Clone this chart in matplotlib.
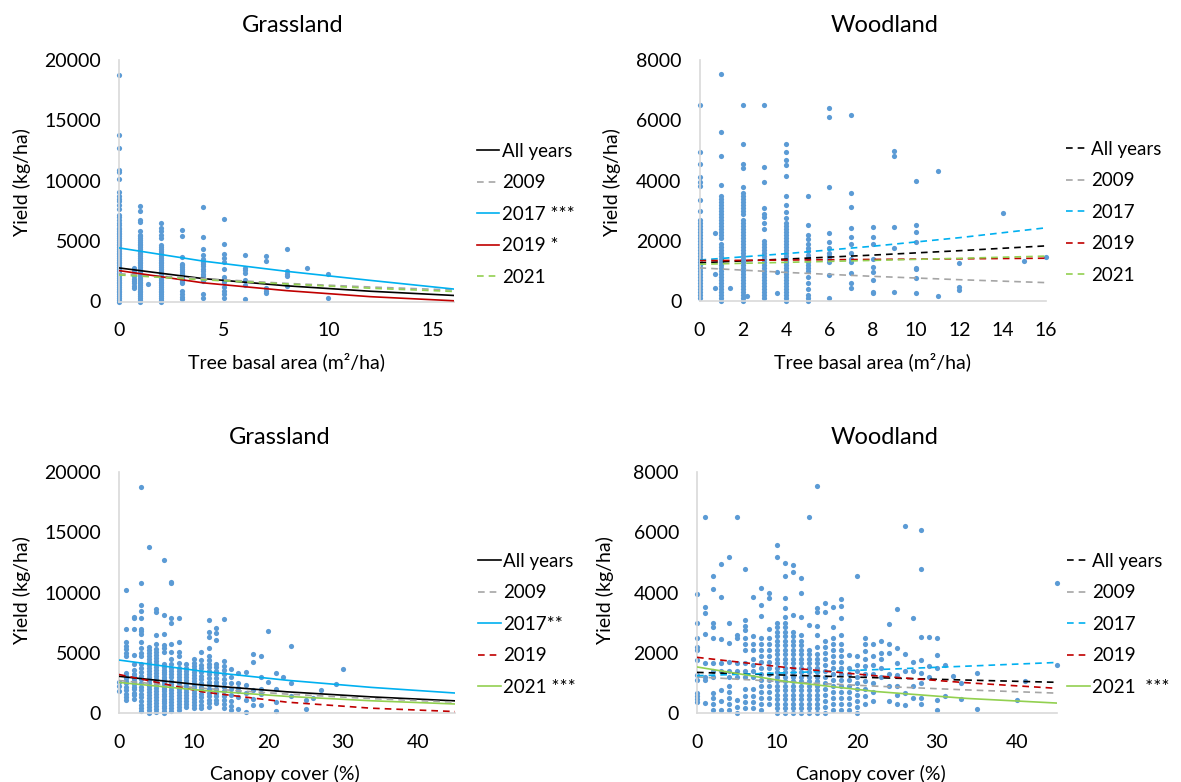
import matplotlib
matplotlib.use("Agg")
import matplotlib.pyplot as plt

plt.rcParams['font.family'] = ['Lato', 'DejaVu Sans']

W, H = 1181, 782
DOT = '#5B9BD5'
AXIS = '#D9D9D9'
C_ALL, C_09, C_17, C_19, C_21 = '#000000', '#A5A5A5', '#00B0F0', '#C00000', '#92D050'

# ---- top left: grassland, yield vs tree basal area ----
tl_x = [0, 0.7, 1, 1.4, 2, 3, 4, 5, 6, 7, 8, 9, 10]
tl_y = [
    [0, 150, 300, 450, 600, 750, 900, 1050, 1200, 1350, 1500, 1650, 1800, 1950, 2100,
     2250, 2400, 2550, 2700, 2850, 3000, 3150, 3300, 3450, 3600, 3750, 3900, 4050, 4200,
     4350, 4500, 4650, 4800, 4950, 5100, 5250, 5400, 5550, 5700, 5850, 6000, 6100,
     6300, 6500, 6750, 7000, 7160, 7700, 8000, 8300, 8500, 8700, 9040, 10140, 10700,
     10880, 12680, 13830, 18790],
    [1100, 1300, 1500, 1700, 1900, 2100, 2300, 2500, 2800],
    [0, 150, 300, 450, 600, 750, 900, 1050, 1200, 1350, 1500, 1650, 1800, 1950, 2100,
     2250, 2400, 2550, 2700, 2850, 3000, 3150, 3300, 3450, 3600, 3750, 3900, 4050, 4200,
     4350, 4500, 4650, 4800, 4950, 5100, 5250, 5400, 5500, 5850, 6560, 6720, 7530, 7940],
    [1440],
    [0, 150, 300, 450, 600, 750, 900, 1050, 1200, 1350, 1500, 1650, 1800, 1950, 2100,
     2250, 2400, 2550, 2700, 2850, 3000, 3150, 3300, 3450, 3600, 3750, 3900, 4050, 4200,
     4350, 4500, 4700, 5250, 5500, 5800, 6070, 6480],
    [200, 400, 650, 900, 1500, 1650, 1800, 1950, 2100, 2250, 2400, 2550, 2700, 2850,
     3000, 3100, 3700, 5400, 5900],
    [300, 650, 1700, 1900, 2100, 2300, 2500, 2700, 2900, 3100, 3300, 3500, 3830, 4330,
     5330, 7800],
    [300, 600, 900, 1200, 1600, 1800, 2000, 2700, 3300, 3600, 3900, 4800, 6800],
    [200, 1380, 1800, 2340, 2620, 2800, 3830],
    [700, 900, 1100, 3320, 3750],
    [1300, 2120, 2300, 2540, 4360],
    [2800],
    [250, 2300],
]
tl_tx = [0, 4, 8, 12, 16]
tl_all = [2780, 1900, 1300, 850, 500]
tl_2009 = [2300, 1900, 1500, 1200, 950]
tl_2017 = [4440, 3350, 2500, 1750, 1030]
tl_2019 = [2560, 1550, 900, 400, 60]
tl_2021 = [2200, 1800, 1450, 1100, 830]
tl_labels = ['All years', '2009', '2017 ***', '2019 *', '2021']

# ---- top right: woodland, yield vs tree basal area ----
tr_x = [0, 0.7, 1, 1.4, 2, 2.2, 3, 3.6, 4, 5, 6, 7, 8, 9, 10, 11, 12, 14, 15, 16]
tr_y = [
    [100, 200, 300, 400, 500, 600, 700, 800, 900, 1000, 1100, 1200, 1300, 1400, 1500,
     1600, 1700, 1800, 1900, 2000, 2100, 2200, 2300, 2400, 2500, 2600, 2700, 3000, 3340,
     3830, 3960, 4110, 4540, 4940, 6500],
    [420, 880, 2270],
    [0, 100, 200, 300, 400, 500, 600, 700, 800, 900, 1000, 1100, 1200, 1300, 1400, 1500,
     1600, 1700, 1800, 1900, 2100, 2200, 2300, 2400, 2500, 2600, 2700, 2800, 2900, 3000,
     3100, 3200, 3300, 3400, 3500, 3850, 4800, 5600, 7530],
    [420],
    [0, 100, 200, 300, 400, 500, 600, 700, 800, 900, 1000, 1100, 1200, 1300, 1400, 1500,
     1600, 1700, 1800, 1900, 2000, 2100, 2200, 2300, 2400, 2500, 2600, 2700, 2900, 3000,
     3100, 3200, 3300, 3400, 3500, 3600, 3800, 4400, 4540, 5200, 6490],
    [180],
    [100, 200, 300, 400, 500, 600, 700, 800, 900, 1000, 1100, 1200, 1300, 1400, 1500,
     1600, 1700, 1800, 1900, 2000, 2400, 2600, 2800, 2900, 3100, 3960, 4460, 6490],
    [280, 950],
    [0, 100, 200, 300, 400, 500, 600, 700, 800, 900, 1000, 1100, 1200, 1300, 1400, 1500,
     1600, 1700, 1800, 1900, 2000, 2100, 2200, 2300, 2400, 2500, 2600, 2750, 2970, 3200,
     3470, 4160, 4520, 4680, 4940, 5200],
    [0, 100, 200, 400, 600, 800, 1000, 1100, 1200, 1300, 1420, 1530, 1650, 1750, 1900,
     2050, 2190, 2520, 3500],
    [90, 860, 1300, 1400, 1500, 1600, 1750, 1970, 2250, 3780, 6100, 6420],
    [420, 590, 920, 1300, 1400, 1600, 1900, 2120, 2410, 3110, 3600, 6180],
    [280, 300, 700, 970, 1140, 1400, 1900, 2140, 2470],
    [310, 1750, 2470, 4800, 4980],
    [250, 770, 1050, 1100, 1970, 2280, 2520, 3980],
    [170, 4300],
    [360, 450, 1250],
    [2910],
    [1320],
    [1450],
]
tr_tx = [0, 4, 8, 12, 16]
tr_all = [1270, 1391, 1524, 1670, 1830]
tr_2009 = [1100, 949, 819, 707, 610]
tr_2017 = [1360, 1572, 1818, 2102, 2430]
tr_2019 = [1340, 1360, 1380, 1400, 1420]
tr_2021 = [1220, 1283, 1348, 1417, 1490]
tr_labels = ['All years', '2009', '2017', '2019', '2021']

# ---- bottom left: grassland, yield vs canopy cover ----
bl_x = [0, 1, 2, 3, 4, 5, 6, 7, 8, 9, 10, 11, 12, 13, 14, 15, 16, 17, 18, 19, 20,
        21, 22, 23, 25, 26, 27, 29, 30]
bl_y = [
    [1800, 2250, 2600],
    [1100, 1300, 1600, 1900, 2200, 2500, 2700, 2900, 3100, 3300, 4700, 5000, 5300, 5600,
     5900, 7000, 10200],
    [1200, 1500, 1700, 2000, 2200, 2400, 2600, 2800, 3000, 3200, 3600, 4100, 4800, 7000,
     7900, 8000],
    [200, 400, 700, 1000, 1300, 1600, 1900, 2200, 2500, 2800, 3100, 3400, 3700, 4100,
     4700, 5000, 5400, 5900, 6600, 6800, 7000, 7900, 8500, 9000, 10800, 18800],
    [0, 250, 500, 750, 1000, 1250, 1500, 1750, 2000, 2250, 2500, 2750, 3000, 3250, 3500,
     3750, 4000, 4250, 4500, 4750, 5000, 5250, 5500, 13800],
    [100, 350, 600, 850, 1100, 1350, 1600, 1850, 2100, 2350, 2600, 2850, 3100, 3350, 3600,
     3850, 4100, 4350, 4600, 4850, 5100, 5350, 5700, 6500, 8400, 8600],
    [0, 200, 400, 600, 800, 1000, 1200, 1400, 1600, 1800, 2000, 2200, 2400, 2600, 2800,
     3000, 3200, 3400, 3600, 3800, 4100, 5100, 5400, 5650, 6540, 8140, 12700],
    [200, 450, 700, 950, 1200, 1450, 1700, 1950, 2200, 2450, 2700, 2950, 3200, 3450,
     3700, 4100, 4500, 5100, 5730, 7500, 7920, 10800, 10900],
    [250, 500, 750, 1000, 1250, 1500, 1750, 2000, 2250, 2500, 2750, 3000, 3250, 3500,
     3750, 4130, 4700, 5100, 5870, 7870],
    [500, 750, 1000, 1250, 1500, 1750, 2000, 2250, 2500, 2750, 3000, 3250, 3500, 3750,
     4100],
    [400, 650, 900, 1150, 1400, 1650, 1900, 2150, 2400, 2650, 2900, 3150, 3400, 3650,
     3900, 4150, 4500],
    [400, 700, 1000, 1300, 1600, 1900, 2200, 2500, 2800, 3100, 3400, 3700, 4000, 4400,
     5100],
    [500, 800, 1100, 1400, 1700, 2000, 2300, 2600, 2900, 3200, 3500, 3800, 4100, 4400,
     4700, 5370, 6340, 6760, 7730],
    [800, 1100, 1400, 1700, 2000, 2300, 2600, 2900, 3200, 3500, 3800, 4100, 6070, 6620,
     7040],
    [400, 750, 1100, 1450, 1800, 2150, 2500, 2850, 3200, 3550, 3900, 4300, 7810],
    [250, 600, 1000, 1500, 2000, 2500, 3000, 3630],
    [300, 1360, 1800, 2100, 2470, 3300],
    [60, 1080, 1700, 2300, 3430],
    [700, 1200, 1900, 4270, 4900],
    [660, 1600, 2000, 3020, 4740],
    [2600, 6790],
    [190, 940, 1970, 3350],
    [3020],
    [1410, 2470, 5570],
    [300, 1080],
    [1220],
    [1910],
    [2380],
    [3660],
]
bl_tx = [0, 11.25, 22.5, 33.75, 45]
bl_all = [3050, 2320, 1760, 1340, 1010]
bl_2009 = [2700, 2050, 1570, 1200, 900]
bl_2017 = [4400, 3460, 2720, 2130, 1660]
bl_2019 = [3200, 1750, 900, 400, 120]
bl_2021 = [2540, 1872, 1380, 1017, 750]
bl_labels = ['All years', '2009', '2017**', '2019', '2021 ***']

# ---- bottom right: woodland, yield vs canopy cover ----
br_x = [0, 1, 2, 3, 4, 5, 6, 7, 8, 9, 10, 11, 12, 13, 14, 15, 16, 17, 18, 19, 20,
        21, 22, 23, 24, 25, 26, 27, 28, 29, 30, 31, 32, 33, 35, 40, 41, 45]
br_y = [
    [350, 450, 550, 650, 1100, 1250, 1750, 2100, 2200, 2500, 3000, 3960],
    [340, 1100, 1210, 1650, 2620, 3340, 3520, 6500],
    [100, 300, 500, 650, 1200, 1400, 1650, 2480, 2870, 2980, 4110, 4540],
    [100, 400, 770, 1400, 1650, 2460, 3840, 4950],
    [100, 300, 500, 700, 900, 1200, 1400, 1700, 2330, 2980, 5190],
    [10, 200, 430, 1200, 1400, 1650, 2500, 2600, 6500],
    [150, 350, 550, 800, 1200, 1400, 1650, 2100, 2300, 2500, 2760, 2900, 3090, 4790],
    [150, 350, 550, 800, 1200, 1400, 1600, 1800, 2100, 2300, 2550, 3840],
    [100, 300, 500, 700, 900, 1100, 1300, 1500, 1700, 1900, 2100, 2300, 2500, 3240,
     3590, 4160],
    [300, 500, 700, 900, 1100, 1300, 1500, 1700, 1900, 2100, 2300, 2500, 2800, 3820,
     3980],
    [0, 150, 300, 450, 600, 750, 900, 1050, 1200, 1350, 1500, 1650, 1800, 1950, 2100,
     2250, 2400, 2550, 2700, 2850, 3000, 5200, 5590],
    [0, 150, 300, 450, 600, 750, 900, 1050, 1200, 1350, 1500, 1650, 1800, 1950, 2100,
     2250, 2400, 2550, 2700, 2850, 3000, 3200, 3480, 3820, 4540, 4980],
    [0, 150, 300, 450, 600, 750, 900, 1050, 1200, 1350, 1500, 1650, 1800, 1950, 2100,
     2250, 2400, 2550, 2700, 3260, 4680, 4920],
    [0, 150, 300, 450, 600, 750, 900, 1050, 1200, 1350, 1500, 1650, 1800, 1950, 2100,
     2250, 2400, 2600, 3200, 4000, 4480],
    [0, 150, 300, 450, 600, 750, 900, 1050, 1200, 1350, 1500, 1650, 1800, 1950, 2100,
     2930, 6500],
    [0, 150, 300, 450, 600, 750, 900, 1050, 1200, 1350, 1500, 1650, 1800, 1950, 2200,
     2600, 2900, 3370, 3480, 7530],
    [0, 200, 400, 600, 800, 1000, 1200, 1400, 1600, 1800, 2000, 2200, 2400, 3370, 3650],
    [100, 300, 500, 700, 900, 1100, 1300, 1500, 1700, 1900, 2100, 2300, 2500, 2870, 3520],
    [100, 300, 500, 700, 900, 1100, 1300, 1500, 1700, 1900, 2100, 2300, 2600, 3150,
     3540, 3780],
    [100, 300, 500, 700, 900, 1100, 1300, 1500, 1930],
    [0, 200, 400, 600, 800, 1000, 1200, 1400, 1600, 1900, 4540],
    [300, 550, 800, 1050, 1300, 1550, 1800, 2050, 2300, 2500],
    [400, 700, 1000, 1300, 1600, 1900, 2300],
    [1200, 1500, 1800, 2000, 2400],
    [400, 900, 1300, 2000, 2300, 2950],
    [300, 600, 900, 1250, 1650, 2150, 3450],
    [250, 650, 1400, 1950, 6200],
    [500, 900, 1400, 1700, 3170],
    [300, 500, 1000, 1330, 1770, 2540, 4790, 6090],
    [1200, 1550, 2540],
    [100, 430, 1500, 1930, 2480],
    [550, 1580],
    [1220],
    [480, 1000],
    [140, 1330],
    [420],
    [1070],
    [1580, 4310],
]
br_tx = [0, 11.25, 22.5, 33.75, 45]
br_all = [1350, 1258, 1173, 1094, 1020]
br_2009 = [1200, 1033, 890, 767, 660]
br_2017 = [1240, 1338, 1443, 1557, 1680]
br_2019 = [1850, 1510, 1232, 1005, 820]
br_2021 = [1530, 1043, 711, 484, 330]
br_labels = ['All years', '2009', '2017', '2019', '2021  ***']


def fx(px):
    return px / W


def fy(py):
    return 1 - py / H


fig = plt.figure(figsize=(W / 100, H / 100), dpi=100)


def panel(box, xs, ys, tx, trends, styles, labels, xlim, xticks, ylim, yticks,
          title, title_xy, xlabel, xlabel_xy, ylabel_xy, legend_xy):
    x0, x1, y0, y1 = box
    ax = fig.add_axes([fx(x0), fy(y0), fx(x1 - x0), (y0 - y1) / H])
    px, py = [], []
    for xv, col in zip(xs, ys):
        for v in col:
            px.append(xv)
            py.append(v)
    ax.scatter(px, py, s=14, color=DOT, linewidths=0, clip_on=False, zorder=2)
    colors = [C_ALL, C_09, C_17, C_19, C_21]
    handles = []
    for vals, c, st, lab in zip(trends, colors, styles, labels):
        if st == '-':
            ln, = ax.plot(tx, vals, color=c, lw=1.2, label=lab, zorder=3)
        else:
            ln, = ax.plot(tx, vals, color=c, lw=1.2, dashes=(4, 3), label=lab, zorder=3)
        handles.append(ln)
    ax.set_xlim(*xlim)
    ax.set_ylim(*ylim)
    ax.set_xticks(xticks)
    ax.set_yticks(yticks)
    for s in ['top', 'right']:
        ax.spines[s].set_visible(False)
    for s in ['left', 'bottom']:
        ax.spines[s].set_color(AXIS)
        ax.spines[s].set_linewidth(1.2)
    ax.tick_params(axis='both', length=0, labelsize=14, colors='black')
    ax.tick_params(axis='y', pad=13)
    ax.tick_params(axis='x', pad=15)
    ax.patch.set_alpha(0)
    fig.text(fx(title_xy[0]), fy(title_xy[1]), title, fontsize=17,
             ha='center', va='center')
    fig.text(fx(xlabel_xy[0]), fy(xlabel_xy[1]), xlabel, fontsize=14,
             ha='center', va='center')
    fig.text(fx(ylabel_xy[0]), fy(ylabel_xy[1]), 'Yield (kg/ha)', fontsize=14,
             ha='center', va='center', rotation=90)
    ax.legend(handles=handles, loc='upper left',
              bbox_to_anchor=(fx(legend_xy[0]), fy(legend_xy[1])),
              bbox_transform=fig.transFigure, frameon=False, fontsize=13.5,
              handlelength=1.2, handletextpad=0.15, labelspacing=0.77,
              borderaxespad=0, borderpad=0)
    return ax


panel((119, 454, 301.5, 60), tl_x, tl_y, tl_tx,
      [tl_all, tl_2009, tl_2017, tl_2019, tl_2021], ['-', '--', '-', '-', '--'],
      tl_labels, (0, 16), [0, 5, 10, 15], (0, 20000), [0, 5000, 10000, 15000, 20000],
      'Grassland', (293, 25), 'Tree basal area (m²/ha)', (286, 362), (22, 182), (477, 143))

panel((699.5, 1046, 301, 60), tr_x, tr_y, tr_tx,
      [tr_all, tr_2009, tr_2017, tr_2019, tr_2021], ['--'] * 5,
      tr_labels, (0, 16), [0, 2, 4, 6, 8, 10, 12, 14, 16], (0, 8000),
      [0, 2000, 4000, 6000, 8000],
      'Woodland', (885, 25), 'Tree basal area (m²/ha)', (873, 362), (612, 182), (1066, 141))

panel((119, 455, 713, 472.3), bl_x, bl_y, bl_tx,
      [bl_all, bl_2009, bl_2017, bl_2019, bl_2021], ['-', '--', '-', '--', '-'],
      bl_labels, (0, 45), [0, 10, 20, 30, 40], (0, 20000), [0, 5000, 10000, 15000, 20000],
      'Grassland', (280, 438), 'Canopy cover (%)', (285, 774), (22, 590), (478, 553))

panel((697, 1057, 713, 472.3), br_x, br_y, br_tx,
      [br_all, br_2009, br_2017, br_2019, br_2021], ['--', '--', '--', '--', '-'],
      br_labels, (0, 45), [0, 10, 20, 30, 40], (0, 8000), [0, 2000, 4000, 6000, 8000],
      'Woodland', (885, 438), 'Canopy cover (%)', (871, 774), (605, 590), (1067, 553))

fig.savefig('out.png', dpi=100)
